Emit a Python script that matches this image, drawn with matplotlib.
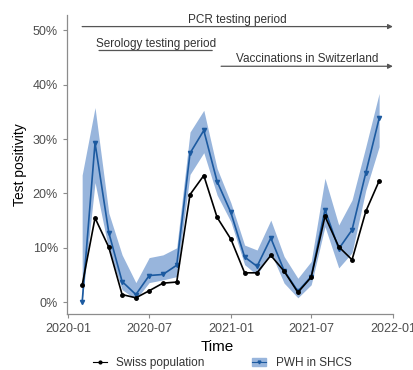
import numpy as np
import matplotlib
matplotlib.use("Agg")
from matplotlib import pyplot as plt
import matplotlib.dates as mdates
from matplotlib.lines import Line2D
from matplotlib.patches import Patch

plt.rcParams['font.family'] = ['Liberation Sans', 'DejaVu Sans']

months = np.arange(np.datetime64('2020-02'), np.datetime64('2022-01'), np.timedelta64(1, 'M'))
dates = months.astype('datetime64[D]')

pwh = [0.0, 29.3, 12.8, 3.8, 1.4, 4.9, 5.1, 6.8, 27.4, 31.6, 22.2,
       16.5, 8.3, 6.6, 11.8, 5.8, 2.0, 4.7, 17.0, 9.8, 13.3, 23.8, 33.8]
pwh_lo = [0.0, 22.0, 9.6, 2.3, 0.5, 3.6, 4.1, 4.7, 23.5, 27.5, 19.7,
          14.8, 6.9, 5.0, 9.1, 3.5, 0.8, 3.2, 13.9, 6.3, 9.1, 20.6, 28.6]
pwh_hi = [23.4, 35.8, 16.4, 8.7, 3.6, 8.2, 8.7, 10.0, 31.3, 35.3, 24.6,
          18.3, 10.5, 9.6, 15.1, 8.4, 4.4, 7.5, 22.8, 14.2, 18.8, 28.6, 38.4]
swiss = [3.1, 15.5, 10.1, 1.4, 0.8, 2.1, 3.5, 3.7, 19.8, 23.3, 15.6,
         11.6, 5.4, 5.4, 8.6, 5.7, 1.8, 4.6, 15.8, 10.2, 7.8, 16.7, 22.3]

periods = [
    ("PCR testing period", '2020-02-01', '2022-01-01', 50.7, True),
    ("Serology testing period", '2020-03-10', '2020-11-20', 46.3, False),
    ("Vaccinations in Switzerland", '2020-12-10', '2022-01-01', 43.4, True),
]

blue = '#1c5aa0'
band = '#98b5dc'
axis_col = '#8c8c8c'
text_col = '#4d4d4d'

fig = plt.figure(figsize=(4.14, 3.70), dpi=100)
ax = fig.add_axes([0.162, 0.151, 0.787, 0.808])

ax.fill_between(dates, pwh_lo, pwh_hi, color=band, lw=0)
ax.plot(dates, pwh, color=blue, lw=1.2, marker='v', ms=3)
ax.plot(dates, swiss, color='black', lw=1.2, marker='o', ms=2.5)

for label, start, end, y, head in periods:
    x0 = mdates.date2num(np.datetime64(start))
    x1 = mdates.date2num(np.datetime64(end))
    ax.annotate('', xy=(x1, y), xytext=(x0, y),
                arrowprops=dict(arrowstyle='-|>' if head else '-', color='#555555',
                                lw=0.9, mutation_scale=7, shrinkA=0, shrinkB=0))
    ax.text((x0 + x1) / 2, y + 0.15, label, ha='center', va='bottom',
            fontsize=8.5, color='#333333')

ax.set_xlim(mdates.date2num(np.datetime64('2019-12-29')),
            mdates.date2num(np.datetime64('2022-01-01')))
ax.set_ylim(-2.2, 52.8)
ax.set_yticks([0, 10, 20, 30, 40, 50])
ax.set_yticklabels(['0%', '10%', '20%', '30%', '40%', '50%'])
ax.xaxis.set_major_locator(mdates.MonthLocator(bymonth=[1, 7]))
ax.xaxis.set_major_formatter(mdates.DateFormatter('%Y-%m'))

for side in ['top', 'right']:
    ax.spines[side].set_visible(False)
for side in ['left', 'bottom']:
    ax.spines[side].set_color(axis_col)
    ax.spines[side].set_linewidth(0.9)
ax.tick_params(colors=axis_col, labelcolor=text_col, labelsize=9, length=3, width=0.8)

ax.set_xlabel('Time', fontsize=11, color='black')
ax.xaxis.set_label_coords((217 - 67) / 326, -0.085)
ax.set_ylabel('Test positivity', fontsize=10, color='black', labelpad=4)

handles = [Line2D([], [], color='black', marker='o', ms=2, lw=0.8),
           (Patch(color=band), Line2D([], [], color=blue, marker='v', ms=2, lw=0.8))]
fig.legend(handles, ['Swiss population', 'PWH in SHCS'], ncol=2, frameon=False,
           loc='center', bbox_to_anchor=(222 / 414, 1 - 363 / 370), fontsize=8.5,
           handlelength=1.2, handleheight=0.6, columnspacing=4.0,
           labelcolor='#333333', borderpad=0, borderaxespad=0)

fig.savefig('out.png', dpi=100)
